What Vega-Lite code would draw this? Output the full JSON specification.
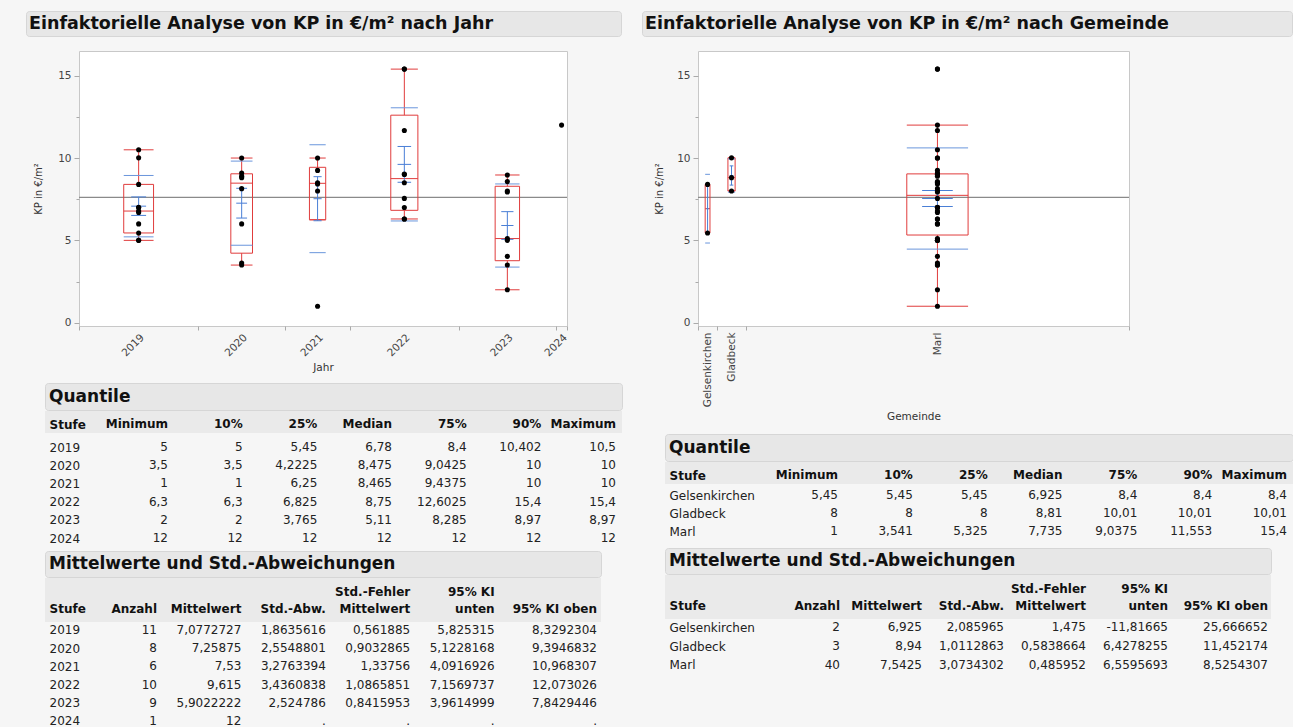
{
  "$schema": "https://vega.github.io/schema/vega-lite/v6.json",
  "background": "#f6f6f6",
  "padding": {"left": 25, "top": 10, "right": 0, "bottom": 0},
  "config": {
    "font": "DejaVu Sans",
    "view": {"stroke": null},
    "axis": {"labelFont": "DejaVu Sans", "titleFont": "DejaVu Sans"},
    "text": {"font": "DejaVu Sans"}
  },
  "datasets": {
    "kp": [
      {"Jahr": 2019, "Gemeinde": "Marl", "KP": 5},
      {"Jahr": 2019, "Gemeinde": "Marl", "KP": 5},
      {"Jahr": 2019, "Gemeinde": "Gelsenkirchen", "KP": 5.45},
      {"Jahr": 2019, "Gemeinde": "Marl", "KP": 6},
      {"Jahr": 2019, "Gemeinde": "Marl", "KP": 6.7},
      {"Jahr": 2019, "Gemeinde": "Marl", "KP": 6.78},
      {"Jahr": 2019, "Gemeinde": "Marl", "KP": 7},
      {"Jahr": 2019, "Gemeinde": "Marl", "KP": 7.01},
      {"Jahr": 2019, "Gemeinde": "Gelsenkirchen", "KP": 8.4},
      {"Jahr": 2019, "Gemeinde": "Gladbeck", "KP": 10.01},
      {"Jahr": 2019, "Gemeinde": "Marl", "KP": 10.5},
      {"Jahr": 2020, "Gemeinde": "Marl", "KP": 3.5},
      {"Jahr": 2020, "Gemeinde": "Marl", "KP": 3.63},
      {"Jahr": 2020, "Gemeinde": "Marl", "KP": 6},
      {"Jahr": 2020, "Gemeinde": "Marl", "KP": 8.14},
      {"Jahr": 2020, "Gemeinde": "Gladbeck", "KP": 8.81},
      {"Jahr": 2020, "Gemeinde": "Marl", "KP": 8.9},
      {"Jahr": 2020, "Gemeinde": "Marl", "KP": 9.09},
      {"Jahr": 2020, "Gemeinde": "Marl", "KP": 10},
      {"Jahr": 2021, "Gemeinde": "Marl", "KP": 1},
      {"Jahr": 2021, "Gemeinde": "Gladbeck", "KP": 8},
      {"Jahr": 2021, "Gemeinde": "Marl", "KP": 8.43},
      {"Jahr": 2021, "Gemeinde": "Marl", "KP": 8.5},
      {"Jahr": 2021, "Gemeinde": "Marl", "KP": 9.25},
      {"Jahr": 2021, "Gemeinde": "Marl", "KP": 10},
      {"Jahr": 2022, "Gemeinde": "Marl", "KP": 6.3},
      {"Jahr": 2022, "Gemeinde": "Marl", "KP": 6.3},
      {"Jahr": 2022, "Gemeinde": "Marl", "KP": 7},
      {"Jahr": 2022, "Gemeinde": "Marl", "KP": 7.55},
      {"Jahr": 2022, "Gemeinde": "Marl", "KP": 8.5},
      {"Jahr": 2022, "Gemeinde": "Marl", "KP": 9},
      {"Jahr": 2022, "Gemeinde": "Marl", "KP": 9.03},
      {"Jahr": 2022, "Gemeinde": "Marl", "KP": 11.67},
      {"Jahr": 2022, "Gemeinde": "Marl", "KP": 15.4},
      {"Jahr": 2022, "Gemeinde": "Marl", "KP": 15.4},
      {"Jahr": 2023, "Gemeinde": "Marl", "KP": 2},
      {"Jahr": 2023, "Gemeinde": "Marl", "KP": 3.5},
      {"Jahr": 2023, "Gemeinde": "Marl", "KP": 4.03},
      {"Jahr": 2023, "Gemeinde": "Marl", "KP": 5},
      {"Jahr": 2023, "Gemeinde": "Marl", "KP": 5.11},
      {"Jahr": 2023, "Gemeinde": "Marl", "KP": 7.94},
      {"Jahr": 2023, "Gemeinde": "Marl", "KP": 8},
      {"Jahr": 2023, "Gemeinde": "Marl", "KP": 8.57},
      {"Jahr": 2023, "Gemeinde": "Marl", "KP": 8.97},
      {"Jahr": 2024, "Gemeinde": "Marl", "KP": 12}
    ],
    "statsJahr": [
      {"Jahr": 2019, "n": 11, "q25": 5.45, "med": 6.78, "q75": 8.4, "wlo": 5, "whi": 10.5, "mean": 7.0772727, "sd": 1.8635616, "se": 0.561885},
      {"Jahr": 2020, "n": 8, "q25": 4.2225, "med": 8.475, "q75": 9.0425, "wlo": 3.5, "whi": 10, "mean": 7.25875, "sd": 2.5548801, "se": 0.9032865},
      {"Jahr": 2021, "n": 6, "q25": 6.25, "med": 8.465, "q75": 9.4375, "wlo": 6.25, "whi": 10, "mean": 7.53, "sd": 3.2763394, "se": 1.33756},
      {"Jahr": 2022, "n": 10, "q25": 6.825, "med": 8.75, "q75": 12.6025, "wlo": 6.3, "whi": 15.4, "mean": 9.615, "sd": 3.4360838, "se": 1.0865851},
      {"Jahr": 2023, "n": 9, "q25": 3.765, "med": 5.11, "q75": 8.285, "wlo": 2, "whi": 8.97, "mean": 5.9022222, "sd": 2.524786, "se": 0.8415953},
      {"Jahr": 2024, "n": 1, "mean": 12}
    ],
    "statsGemeinde": [
      {"Gemeinde": "Gelsenkirchen", "n": 2, "q25": 5.45, "med": 6.925, "q75": 8.4, "wlo": 5.45, "whi": 8.4, "mean": 6.925, "sd": 2.085965, "se": 1.475},
      {"Gemeinde": "Gladbeck", "n": 3, "q25": 8, "med": 8.81, "q75": 10.01, "wlo": 8, "whi": 10.01, "mean": 8.94, "sd": 1.0112863, "se": 0.5838664},
      {"Gemeinde": "Marl", "n": 40, "q25": 5.325, "med": 7.735, "q75": 9.0375, "wlo": 1, "whi": 12, "mean": 7.5425, "sd": 3.0734302, "se": 0.485952}
    ],
    "quantJahr": [
      {"Stufe": "Stufe", "min": "Minimum", "p10": "10%", "p25": "25%", "med": "Median", "p75": "75%", "p90": "90%", "max": "Maximum"},
      {"Stufe": "2019", "min": "5", "p10": "5", "p25": "5,45", "med": "6,78", "p75": "8,4", "p90": "10,402", "max": "10,5"},
      {"Stufe": "2020", "min": "3,5", "p10": "3,5", "p25": "4,2225", "med": "8,475", "p75": "9,0425", "p90": "10", "max": "10"},
      {"Stufe": "2021", "min": "1", "p10": "1", "p25": "6,25", "med": "8,465", "p75": "9,4375", "p90": "10", "max": "10"},
      {"Stufe": "2022", "min": "6,3", "p10": "6,3", "p25": "6,825", "med": "8,75", "p75": "12,6025", "p90": "15,4", "max": "15,4"},
      {"Stufe": "2023", "min": "2", "p10": "2", "p25": "3,765", "med": "5,11", "p75": "8,285", "p90": "8,97", "max": "8,97"},
      {"Stufe": "2024", "min": "12", "p10": "12", "p25": "12", "med": "12", "p75": "12", "p90": "12", "max": "12"}
    ],
    "meansJahr": [
      {"Stufe": "Stufe", "n": "Anzahl", "mw": "Mittelwert", "sd": "Std.-Abw.", "se": "Std.-Fehler\nMittelwert", "ku": "95% KI\nunten", "ko": "95% KI oben"},
      {"Stufe": "2019", "n": "11", "mw": "7,0772727", "sd": "1,8635616", "se": "0,561885", "ku": "5,825315", "ko": "8,3292304"},
      {"Stufe": "2020", "n": "8", "mw": "7,25875", "sd": "2,5548801", "se": "0,9032865", "ku": "5,1228168", "ko": "9,3946832"},
      {"Stufe": "2021", "n": "6", "mw": "7,53", "sd": "3,2763394", "se": "1,33756", "ku": "4,0916926", "ko": "10,968307"},
      {"Stufe": "2022", "n": "10", "mw": "9,615", "sd": "3,4360838", "se": "1,0865851", "ku": "7,1569737", "ko": "12,073026"},
      {"Stufe": "2023", "n": "9", "mw": "5,9022222", "sd": "2,524786", "se": "0,8415953", "ku": "3,9614999", "ko": "7,8429446"},
      {"Stufe": "2024", "n": "1", "mw": "12", "sd": ".", "se": ".", "ku": ".", "ko": "."}
    ],
    "quantGemeinde": [
      {"Stufe": "Stufe", "min": "Minimum", "p10": "10%", "p25": "25%", "med": "Median", "p75": "75%", "p90": "90%", "max": "Maximum"},
      {"Stufe": "Gelsenkirchen", "min": "5,45", "p10": "5,45", "p25": "5,45", "med": "6,925", "p75": "8,4", "p90": "8,4", "max": "8,4"},
      {"Stufe": "Gladbeck", "min": "8", "p10": "8", "p25": "8", "med": "8,81", "p75": "10,01", "p90": "10,01", "max": "10,01"},
      {"Stufe": "Marl", "min": "1", "p10": "3,541", "p25": "5,325", "med": "7,735", "p75": "9,0375", "p90": "11,553", "max": "15,4"}
    ],
    "meansGemeinde": [
      {"Stufe": "Stufe", "n": "Anzahl", "mw": "Mittelwert", "sd": "Std.-Abw.", "se": "Std.-Fehler\nMittelwert", "ku": "95% KI\nunten", "ko": "95% KI oben"},
      {"Stufe": "Gelsenkirchen", "n": "2", "mw": "6,925", "sd": "2,085965", "se": "1,475", "ku": "-11,81665", "ko": "25,666652"},
      {"Stufe": "Gladbeck", "n": "3", "mw": "8,94", "sd": "1,0112863", "se": "0,5838664", "ku": "6,4278255", "ko": "11,452174"},
      {"Stufe": "Marl", "n": "40", "mw": "7,5425", "sd": "3,0734302", "se": "0,485952", "ku": "6,5595693", "ko": "8,5254307"}
    ]
  },
  "spacing": 18,
  "hconcat": [
    {
      "spacing": 13,
      "vconcat": [
        {
          "width": 595, "height": 25,
          "view": {"fill": "#e7e7e7", "stroke": "#d6d6d6", "cornerRadius": 3},
          "data": {"values": [{"titel": "Einfaktorielle Analyse von KP in €/m² nach Jahr"}]},
          "mark": {"type": "text", "align": "left", "baseline": "middle", "dx": 3, "fontSize": 17.5, "fontWeight": "bold", "color": "#111"},
          "encoding": {"text": {"field": "titel"}, "x": {"datum": 0, "type": "quantitative", "scale": {"domain": [0, 1]}, "axis": null}}
        },
        {
          "spacing": 8,
          "vconcat": [
            {
              "spacing": 0,
              "hconcat": [
                {"width": 7, "height": 10, "data": {"values": []}, "mark": "rect"},
                {
                  "width": 488, "height": 275,
                  "view": {"fill": "white", "stroke": "#c8c8c8"},
                  "layer": [
                    {
                      "data": {"name": "kp"},
                      "mark": {"type": "rule", "color": "#8a8a8a", "strokeWidth": 1.2},
                      "encoding": {
                        "y": {"aggregate": "mean", "field": "KP", "type": "quantitative", "title": "KP in €/m²",
                          "scale": {"domain": [-0.2, 16.5], "nice": false, "zero": false},
                          "axis": {"values": [0, 2.5, 5, 7.5, 10, 12.5, 15], "labelExpr": "datum.value % 5 == 0 ? datum.label : ''", "labelFontSize": 10.5, "labelColor": "#444", "tickSize": {"condition": {"test": "datum.value % 5 != 0", "value": 3}, "value": 5}, "tickColor": "#aaa", "domain": false, "grid": false, "labelPadding": 3, "titleFontSize": 10, "titlePadding": 14, "titleColor": "#333", "titleFontWeight": "normal"}}
                      }
                    },
                    {
                      "data": {"name": "statsJahr"},
                      "transform": [
                        {"window": [{"op": "sum", "field": "n", "as": "cum"}], "sort": [{"field": "Jahr"}], "frame": [null, 0]},
                        {"filter": "datum.n > 1"},
                        {"calculate": "datum.cum - datum.n / 2", "as": "c"},
                        {"calculate": "min(datum.n * 0.125, 3.2)", "as": "h"},
                        {"calculate": "datum.c - datum.h", "as": "x1"},
                        {"calculate": "datum.c + datum.h", "as": "x2"},
                        {"calculate": "datum.c - datum.h / 2", "as": "xs1"},
                        {"calculate": "datum.c + datum.h / 2", "as": "xs2"},
                        {"calculate": "datum.mean - datum.sd", "as": "sdlo"},
                        {"calculate": "datum.mean + datum.sd", "as": "sdhi"},
                        {"calculate": "datum.mean - datum.se", "as": "selo"},
                        {"calculate": "datum.mean + datum.se", "as": "sehi"}
                      ],
                      "layer": [
                        {"mark": {"type": "rule", "color": "#e03c3c"}, "encoding": {
                          "x": {"field": "c", "type": "quantitative", "title": "Jahr", "scale": {"domain": [0, 45], "nice": false, "zero": false},
                            "axis": {"values": [0, 5.5, 11, 15, 19, 22, 25, 30, 35, 39.5, 44, 44.5, 45],
                              "labelExpr": "datum.value == 5.5 ? '2019' : datum.value == 15 ? '2020' : datum.value == 22 ? '2021' : datum.value == 30 ? '2022' : datum.value == 39.5 ? '2023' : datum.value == 44.5 ? '2024' : ''",
                              "labelAngle": -45, "labelFontSize": 10.5, "labelColor": "#444", "labelPadding": 2, "labelOverlap": false, "labelFlush": false, "labelBound": false,
                              "tickSize": 4, "tickColor": {"condition": {"test": "indexof([0, 11, 19, 25, 35, 44, 45], datum.value) >= 0", "value": "#aaa"}, "value": "rgba(0,0,0,0)"},
                              "domain": false, "grid": false, "titleFontSize": 10.5, "titleColor": "#333", "titleFontWeight": "normal", "titlePadding": 4}},
                          "y": {"field": "wlo", "type": "quantitative", "title": "KP in €/m²"}, "y2": {"field": "q25"}}},
                        {"mark": {"type": "rule", "color": "#e03c3c"}, "encoding": {"x": {"field": "c", "type": "quantitative", "title": "Jahr"}, "y": {"field": "q75", "type": "quantitative", "title": "KP in €/m²"}, "y2": {"field": "whi"}}},
                        {"mark": {"type": "rule", "color": "#e03c3c"}, "encoding": {"x": {"field": "x1", "type": "quantitative", "title": "Jahr"}, "x2": {"field": "x2"}, "y": {"field": "wlo", "type": "quantitative", "title": "KP in €/m²"}}},
                        {"mark": {"type": "rule", "color": "#e03c3c"}, "encoding": {"x": {"field": "x1", "type": "quantitative", "title": "Jahr"}, "x2": {"field": "x2"}, "y": {"field": "whi", "type": "quantitative", "title": "KP in €/m²"}}},
                        {"mark": {"type": "rect", "fill": "transparent", "stroke": "#e03c3c", "strokeWidth": 1}, "encoding": {"x": {"field": "x1", "type": "quantitative", "title": "Jahr"}, "x2": {"field": "x2"}, "y": {"field": "q25", "type": "quantitative", "title": "KP in €/m²"}, "y2": {"field": "q75"}}},
                        {"mark": {"type": "rule", "color": "#e03c3c"}, "encoding": {"x": {"field": "x1", "type": "quantitative", "title": "Jahr"}, "x2": {"field": "x2"}, "y": {"field": "med", "type": "quantitative", "title": "KP in €/m²"}}},
                        {"mark": {"type": "rule", "color": "#6a96dc"}, "encoding": {"x": {"field": "x1", "type": "quantitative", "title": "Jahr"}, "x2": {"field": "x2"}, "y": {"field": "sdlo", "type": "quantitative", "title": "KP in €/m²"}}},
                        {"mark": {"type": "rule", "color": "#6a96dc"}, "encoding": {"x": {"field": "x1", "type": "quantitative", "title": "Jahr"}, "x2": {"field": "x2"}, "y": {"field": "sdhi", "type": "quantitative", "title": "KP in €/m²"}}},
                        {"mark": {"type": "rule", "color": "#4a7fd6"}, "encoding": {"x": {"field": "c", "type": "quantitative", "title": "Jahr"}, "y": {"field": "selo", "type": "quantitative", "title": "KP in €/m²"}, "y2": {"field": "sehi"}}},
                        {"mark": {"type": "rule", "color": "#4a7fd6"}, "encoding": {"x": {"field": "xs1", "type": "quantitative", "title": "Jahr"}, "x2": {"field": "xs2"}, "y": {"field": "selo", "type": "quantitative", "title": "KP in €/m²"}}},
                        {"mark": {"type": "rule", "color": "#4a7fd6"}, "encoding": {"x": {"field": "xs1", "type": "quantitative", "title": "Jahr"}, "x2": {"field": "xs2"}, "y": {"field": "sehi", "type": "quantitative", "title": "KP in €/m²"}}},
                        {"mark": {"type": "rule", "color": "#4a7fd6"}, "encoding": {"x": {"field": "xs1", "type": "quantitative", "title": "Jahr"}, "x2": {"field": "xs2"}, "y": {"field": "mean", "type": "quantitative", "title": "KP in €/m²"}}}
                      ]
                    },
                    {
                      "data": {"name": "kp"},
                      "transform": [
                        {"joinaggregate": [{"op": "count", "as": "n"}], "groupby": ["Jahr"]},
                        {"window": [{"op": "row_number", "as": "rn"}], "sort": [{"field": "Jahr"}, {"field": "KP"}]},
                        {"joinaggregate": [{"op": "min", "field": "rn", "as": "first"}], "groupby": ["Jahr"]},
                        {"calculate": "datum.first - 1 + datum.n / 2", "as": "c"}
                      ],
                      "mark": {"type": "circle", "size": 26, "color": "#000", "opacity": 1},
                      "encoding": {"x": {"field": "c", "type": "quantitative", "title": "Jahr"}, "y": {"field": "KP", "type": "quantitative", "title": "KP in €/m²"}}
                    }
                  ]
                }
              ]
            },
            {
              "spacing": 0,
              "hconcat": [
                {"width": 18, "height": 10, "data": {"values": []}, "mark": "rect"},
                {
                  "spacing": 0,
                  "vconcat": [
                    {
                      "width": 577, "height": 27,
                      "view": {"fill": "#e7e7e7", "stroke": "#d6d6d6", "cornerRadius": 3},
                      "data": {"values": [{"titel": "Quantile"}]},
                      "mark": {"type": "text", "align": "left", "baseline": "middle", "dx": 4, "fontSize": 17, "fontWeight": "bold", "color": "#111"},
                      "encoding": {"text": {"field": "titel"}, "x": {"datum": 0, "type": "quantitative", "scale": {"domain": [0, 1]}, "axis": null}}
                    },
                    {
                      "width": 577, "height": 22,
                      "view": {"fill": "#eaeaea"},
                      "data": {"name": "quantJahr"},
                      "transform": [{"filter": "datum.Stufe == 'Stufe'"}, {"fold": ["min", "p10", "p25", "med", "p75", "p90", "max"], "as": ["key", "val"]}],
                      "mark": {"type": "text", "align": "right", "baseline": "middle", "fontSize": 12, "fontWeight": "bold", "color": "#111"},
                      "encoding": {
                        "y": {"field": "Stufe", "type": "nominal", "scale": {"type": "point", "domain": ["Stufe"], "align": 0.6},
                          "axis": {"title": null, "domain": false, "ticks": false, "labelAlign": "left", "labelPadding": -4, "labelFontSize": 12, "labelColor": "#111", "labelFontWeight": "bold", "zindex": 1}},
                        "x": {"field": "key", "type": "nominal", "scale": {"type": "point", "padding": 0, "domain": ["min", "p10", "p25", "med", "p75", "p90", "max"], "range": [123, 571]}, "axis": null},
                        "text": {"field": "val"}
                      }
                    },
                    {
                      "width": 577, "height": 117,
                      "data": {"name": "quantJahr"},
                      "transform": [{"filter": "datum.Stufe != 'Stufe'"}, {"fold": ["min", "p10", "p25", "med", "p75", "p90", "max"], "as": ["key", "val"]}],
                      "mark": {"type": "text", "align": "right", "baseline": "middle", "fontSize": 12, "color": "#222"},
                      "encoding": {
                        "y": {"field": "Stufe", "type": "nominal", "scale": {"type": "point", "domain": ["2019", "2020", "2021", "2022", "2023", "2024"], "padding": 0.714, "align": 0.54},
                          "axis": {"title": null, "domain": false, "ticks": false, "labelAlign": "left", "labelPadding": -4, "labelFontSize": 12, "labelColor": "#222", "zindex": 1}},
                        "x": {"field": "key", "type": "nominal", "scale": {"type": "point", "padding": 0, "domain": ["min", "p10", "p25", "med", "p75", "p90", "max"], "range": [123, 571]}, "axis": null},
                        "text": {"field": "val"}
                      }
                    },
                    {
                      "width": 556, "height": 26,
                      "view": {"fill": "#e7e7e7", "stroke": "#d6d6d6", "cornerRadius": 3},
                      "data": {"values": [{"titel": "Mittelwerte und Std.-Abweichungen"}]},
                      "mark": {"type": "text", "align": "left", "baseline": "middle", "dx": 4, "fontSize": 17, "fontWeight": "bold", "color": "#111"},
                      "encoding": {"text": {"field": "titel"}, "x": {"datum": 0, "type": "quantitative", "scale": {"domain": [0, 1]}, "axis": null}}
                    },
                    {
                      "width": 556, "height": 44,
                      "view": {"fill": "#eaeaea"},
                      "data": {"name": "meansJahr"},
                      "transform": [{"filter": "datum.Stufe == 'Stufe'"}, {"fold": ["n", "mw", "sd", "se", "ku", "ko"], "as": ["key", "val"]}],
                      "encoding": {
                        "y": {"field": "Stufe", "type": "nominal", "scale": {"type": "point", "domain": ["Stufe"], "align": 0.7},
                          "axis": {"title": null, "domain": false, "ticks": false, "labelAlign": "left", "labelPadding": -4, "labelFontSize": 12, "labelColor": "#111", "labelFontWeight": "bold", "zindex": 1}},
                        "x": {"field": "key", "type": "nominal", "scale": {"type": "point", "padding": 0, "domain": ["n", "mw", "sd", "se", "ku", "ko"], "range": [112, 534]}, "axis": null},
                        "text": {"field": "val"}
                      },
                      "layer": [
                        {"transform": [{"filter": "datum.key != 'ko' && indexof(datum.val, '\\n') < 0"}], "mark": {"type": "text", "align": "right", "baseline": "middle", "fontSize": 12, "fontWeight": "bold", "color": "#111"}},
                        {"transform": [{"filter": "indexof(datum.val, '\\n') >= 0"}], "mark": {"type": "text", "align": "right", "baseline": "middle", "dy": -17, "lineBreak": "\n", "lineHeight": 17, "fontSize": 12, "fontWeight": "bold", "color": "#111"}},
                        {"transform": [{"filter": "datum.key == 'ko'"}], "mark": {"type": "text", "align": "right", "baseline": "middle", "dx": 18, "fontSize": 12, "fontWeight": "bold", "color": "#111"}}
                      ]
                    },
                    {
                      "width": 556, "height": 108,
                      "data": {"name": "meansJahr"},
                      "transform": [{"filter": "datum.Stufe != 'Stufe'"}, {"fold": ["n", "mw", "sd", "se", "ku", "ko"], "as": ["key", "val"]}],
                      "encoding": {
                        "y": {"field": "Stufe", "type": "nominal", "scale": {"type": "point", "domain": ["2019", "2020", "2021", "2022", "2023", "2024"], "padding": 0.467, "align": 0.47},
                          "axis": {"title": null, "domain": false, "ticks": false, "labelAlign": "left", "labelPadding": -4, "labelFontSize": 12, "labelColor": "#222", "zindex": 1}},
                        "x": {"field": "key", "type": "nominal", "scale": {"type": "point", "padding": 0, "domain": ["n", "mw", "sd", "se", "ku", "ko"], "range": [112, 534]}, "axis": null},
                        "text": {"field": "val"}
                      },
                      "layer": [
                        {"transform": [{"filter": "datum.key != 'ko'"}], "mark": {"type": "text", "align": "right", "baseline": "middle", "fontSize": 12, "color": "#222"}},
                        {"transform": [{"filter": "datum.key == 'ko'"}], "mark": {"type": "text", "align": "right", "baseline": "middle", "dx": 18, "fontSize": 12, "color": "#222"}}
                      ]
                    }
                  ]
                }
              ]
            }
          ]
        }
      ]
    },
    {
      "spacing": 13,
      "vconcat": [
        {
          "width": 650, "height": 25,
          "view": {"fill": "#e7e7e7", "stroke": "#d6d6d6", "cornerRadius": 3},
          "data": {"values": [{"titel": "Einfaktorielle Analyse von KP in €/m² nach Gemeinde"}]},
          "mark": {"type": "text", "align": "left", "baseline": "middle", "dx": 3, "fontSize": 17.5, "fontWeight": "bold", "color": "#111"},
          "encoding": {"text": {"field": "titel"}, "x": {"datum": 0, "type": "quantitative", "scale": {"domain": [0, 1]}, "axis": null}}
        },
        {
          "spacing": 10,
          "vconcat": [
            {
              "spacing": 0,
              "hconcat": [
                {"width": 12, "height": 10, "data": {"values": []}, "mark": "rect"},
                {
                  "width": 431, "height": 275,
                  "view": {"fill": "white", "stroke": "#c8c8c8"},
                  "layer": [
                    {
                      "data": {"name": "kp"},
                      "mark": {"type": "rule", "color": "#8a8a8a", "strokeWidth": 1.2},
                      "encoding": {
                        "y": {"aggregate": "mean", "field": "KP", "type": "quantitative", "title": "KP in €/m²",
                          "scale": {"domain": [-0.2, 16.5], "nice": false, "zero": false},
                          "axis": {"values": [0, 2.5, 5, 7.5, 10, 12.5, 15], "labelExpr": "datum.value % 5 == 0 ? datum.label : ''", "labelFontSize": 10.5, "labelColor": "#444", "tickSize": {"condition": {"test": "datum.value % 5 != 0", "value": 3}, "value": 5}, "tickColor": "#aaa", "domain": false, "grid": false, "labelPadding": 3, "titleFontSize": 10, "titlePadding": 12, "titleColor": "#333", "titleFontWeight": "normal"}}
                      }
                    },
                    {
                      "data": {"name": "statsGemeinde"},
                      "transform": [
                        {"window": [{"op": "sum", "field": "n", "as": "cum"}], "sort": [{"field": "Gemeinde"}], "frame": [null, 0]},
                        {"filter": "datum.n > 1"},
                        {"calculate": "datum.cum - datum.n / 2", "as": "c"},
                        {"calculate": "min(datum.n * 0.125, 3.2)", "as": "h"},
                        {"calculate": "datum.c - datum.h", "as": "x1"},
                        {"calculate": "datum.c + datum.h", "as": "x2"},
                        {"calculate": "datum.c - datum.h / 2", "as": "xs1"},
                        {"calculate": "datum.c + datum.h / 2", "as": "xs2"},
                        {"calculate": "datum.mean - datum.sd", "as": "sdlo"},
                        {"calculate": "datum.mean + datum.sd", "as": "sdhi"},
                        {"calculate": "datum.mean - datum.se", "as": "selo"},
                        {"calculate": "datum.mean + datum.se", "as": "sehi"}
                      ],
                      "layer": [
                        {"mark": {"type": "rule", "color": "#e03c3c"}, "encoding": {
                          "x": {"field": "c", "type": "quantitative", "title": "Gemeinde", "scale": {"domain": [0, 45], "nice": false, "zero": false},
                            "axis": {"values": [0, 1, 2, 3.5, 5, 25, 45],
                              "labelExpr": "datum.value == 1 ? 'Gelsenkirchen' : datum.value == 3.5 ? 'Gladbeck' : datum.value == 25 ? 'Marl' : ''",
                              "labelAngle": -90, "labelFontSize": 10.5, "labelColor": "#444", "labelPadding": 2, "labelOverlap": false, "labelFlush": false, "labelBound": false,
                              "tickSize": 4, "tickColor": {"condition": {"test": "indexof([0, 2, 5, 45], datum.value) >= 0", "value": "#aaa"}, "value": "rgba(0,0,0,0)"},
                              "domain": false, "grid": false, "titleFontSize": 10.5, "titleColor": "#333", "titleFontWeight": "normal", "titlePadding": 5}},
                          "y": {"field": "wlo", "type": "quantitative", "title": "KP in €/m²"}, "y2": {"field": "q25"}}},
                        {"mark": {"type": "rule", "color": "#e03c3c"}, "encoding": {"x": {"field": "c", "type": "quantitative", "title": "Gemeinde"}, "y": {"field": "q75", "type": "quantitative", "title": "KP in €/m²"}, "y2": {"field": "whi"}}},
                        {"mark": {"type": "rule", "color": "#e03c3c"}, "encoding": {"x": {"field": "x1", "type": "quantitative", "title": "Gemeinde"}, "x2": {"field": "x2"}, "y": {"field": "wlo", "type": "quantitative", "title": "KP in €/m²"}}},
                        {"mark": {"type": "rule", "color": "#e03c3c"}, "encoding": {"x": {"field": "x1", "type": "quantitative", "title": "Gemeinde"}, "x2": {"field": "x2"}, "y": {"field": "whi", "type": "quantitative", "title": "KP in €/m²"}}},
                        {"mark": {"type": "rect", "fill": "transparent", "stroke": "#e03c3c", "strokeWidth": 1}, "encoding": {"x": {"field": "x1", "type": "quantitative", "title": "Gemeinde"}, "x2": {"field": "x2"}, "y": {"field": "q25", "type": "quantitative", "title": "KP in €/m²"}, "y2": {"field": "q75"}}},
                        {"mark": {"type": "rule", "color": "#e03c3c"}, "encoding": {"x": {"field": "x1", "type": "quantitative", "title": "Gemeinde"}, "x2": {"field": "x2"}, "y": {"field": "med", "type": "quantitative", "title": "KP in €/m²"}}},
                        {"mark": {"type": "rule", "color": "#6a96dc"}, "encoding": {"x": {"field": "x1", "type": "quantitative", "title": "Gemeinde"}, "x2": {"field": "x2"}, "y": {"field": "sdlo", "type": "quantitative", "title": "KP in €/m²"}}},
                        {"mark": {"type": "rule", "color": "#6a96dc"}, "encoding": {"x": {"field": "x1", "type": "quantitative", "title": "Gemeinde"}, "x2": {"field": "x2"}, "y": {"field": "sdhi", "type": "quantitative", "title": "KP in €/m²"}}},
                        {"mark": {"type": "rule", "color": "#4a7fd6"}, "encoding": {"x": {"field": "c", "type": "quantitative", "title": "Gemeinde"}, "y": {"field": "selo", "type": "quantitative", "title": "KP in €/m²"}, "y2": {"field": "sehi"}}},
                        {"mark": {"type": "rule", "color": "#4a7fd6"}, "encoding": {"x": {"field": "xs1", "type": "quantitative", "title": "Gemeinde"}, "x2": {"field": "xs2"}, "y": {"field": "selo", "type": "quantitative", "title": "KP in €/m²"}}},
                        {"mark": {"type": "rule", "color": "#4a7fd6"}, "encoding": {"x": {"field": "xs1", "type": "quantitative", "title": "Gemeinde"}, "x2": {"field": "xs2"}, "y": {"field": "sehi", "type": "quantitative", "title": "KP in €/m²"}}},
                        {"mark": {"type": "rule", "color": "#4a7fd6"}, "encoding": {"x": {"field": "xs1", "type": "quantitative", "title": "Gemeinde"}, "x2": {"field": "xs2"}, "y": {"field": "mean", "type": "quantitative", "title": "KP in €/m²"}}}
                      ]
                    },
                    {
                      "data": {"name": "kp"},
                      "transform": [
                        {"joinaggregate": [{"op": "count", "as": "n"}], "groupby": ["Gemeinde"]},
                        {"window": [{"op": "row_number", "as": "rn"}], "sort": [{"field": "Gemeinde"}, {"field": "KP"}]},
                        {"joinaggregate": [{"op": "min", "field": "rn", "as": "first"}], "groupby": ["Gemeinde"]},
                        {"calculate": "datum.first - 1 + datum.n / 2", "as": "c"}
                      ],
                      "mark": {"type": "circle", "size": 26, "color": "#000", "opacity": 1},
                      "encoding": {"x": {"field": "c", "type": "quantitative", "title": "Gemeinde"}, "y": {"field": "KP", "type": "quantitative", "title": "KP in €/m²"}}
                    }
                  ]
                }
              ]
            },
            {
              "spacing": 0,
              "hconcat": [
                {"width": 22, "height": 10, "data": {"values": []}, "mark": "rect"},
                {
                  "spacing": 0,
                  "vconcat": [
                    {
                      "width": 628, "height": 27,
                      "view": {"fill": "#e7e7e7", "stroke": "#d6d6d6", "cornerRadius": 3},
                      "data": {"values": [{"titel": "Quantile"}]},
                      "mark": {"type": "text", "align": "left", "baseline": "middle", "dx": 4, "fontSize": 17, "fontWeight": "bold", "color": "#111"},
                      "encoding": {"text": {"field": "titel"}, "x": {"datum": 0, "type": "quantitative", "scale": {"domain": [0, 1]}, "axis": null}}
                    },
                    {
                      "width": 628, "height": 22,
                      "view": {"fill": "#eaeaea"},
                      "data": {"name": "quantGemeinde"},
                      "transform": [{"filter": "datum.Stufe == 'Stufe'"}, {"fold": ["min", "p10", "p25", "med", "p75", "p90", "max"], "as": ["key", "val"]}],
                      "mark": {"type": "text", "align": "right", "baseline": "middle", "fontSize": 12, "fontWeight": "bold", "color": "#111"},
                      "encoding": {
                        "y": {"field": "Stufe", "type": "nominal", "scale": {"type": "point", "domain": ["Stufe"], "align": 0.6},
                          "axis": {"title": null, "domain": false, "ticks": false, "labelAlign": "left", "labelPadding": -4, "labelFontSize": 12, "labelColor": "#111", "labelFontWeight": "bold", "zindex": 1}},
                        "x": {"field": "key", "type": "nominal", "scale": {"type": "point", "padding": 0, "domain": ["min", "p10", "p25", "med", "p75", "p90", "max"], "range": [173, 622]}, "axis": null},
                        "text": {"field": "val"}
                      }
                    },
                    {
                      "width": 628, "height": 63,
                      "data": {"name": "quantGemeinde"},
                      "transform": [{"filter": "datum.Stufe != 'Stufe'"}, {"fold": ["min", "p10", "p25", "med", "p75", "p90", "max"], "as": ["key", "val"]}],
                      "mark": {"type": "text", "align": "right", "baseline": "middle", "fontSize": 12, "color": "#222"},
                      "encoding": {
                        "y": {"field": "Stufe", "type": "nominal", "scale": {"type": "point", "domain": ["Gelsenkirchen", "Gladbeck", "Marl"], "padding": 0.75, "align": 0.41},
                          "axis": {"title": null, "domain": false, "ticks": false, "labelAlign": "left", "labelPadding": -4, "labelFontSize": 12, "labelColor": "#222", "zindex": 1}},
                        "x": {"field": "key", "type": "nominal", "scale": {"type": "point", "padding": 0, "domain": ["min", "p10", "p25", "med", "p75", "p90", "max"], "range": [173, 622]}, "axis": null},
                        "text": {"field": "val"}
                      }
                    },
                    {
                      "width": 606, "height": 26,
                      "view": {"fill": "#e7e7e7", "stroke": "#d6d6d6", "cornerRadius": 3},
                      "data": {"values": [{"titel": "Mittelwerte und Std.-Abweichungen"}]},
                      "mark": {"type": "text", "align": "left", "baseline": "middle", "dx": 4, "fontSize": 17, "fontWeight": "bold", "color": "#111"},
                      "encoding": {"text": {"field": "titel"}, "x": {"datum": 0, "type": "quantitative", "scale": {"domain": [0, 1]}, "axis": null}}
                    },
                    {
                      "width": 606, "height": 44,
                      "view": {"fill": "#eaeaea"},
                      "data": {"name": "meansGemeinde"},
                      "transform": [{"filter": "datum.Stufe == 'Stufe'"}, {"fold": ["n", "mw", "sd", "se", "ku", "ko"], "as": ["key", "val"]}],
                      "encoding": {
                        "y": {"field": "Stufe", "type": "nominal", "scale": {"type": "point", "domain": ["Stufe"], "align": 0.7},
                          "axis": {"title": null, "domain": false, "ticks": false, "labelAlign": "left", "labelPadding": -4, "labelFontSize": 12, "labelColor": "#111", "labelFontWeight": "bold", "zindex": 1}},
                        "x": {"field": "key", "type": "nominal", "scale": {"type": "point", "padding": 0, "domain": ["n", "mw", "sd", "se", "ku", "ko"], "range": [175, 585]}, "axis": null},
                        "text": {"field": "val"}
                      },
                      "layer": [
                        {"transform": [{"filter": "datum.key != 'ko' && indexof(datum.val, '\\n') < 0"}], "mark": {"type": "text", "align": "right", "baseline": "middle", "fontSize": 12, "fontWeight": "bold", "color": "#111"}},
                        {"transform": [{"filter": "indexof(datum.val, '\\n') >= 0"}], "mark": {"type": "text", "align": "right", "baseline": "middle", "dy": -17, "lineBreak": "\n", "lineHeight": 17, "fontSize": 12, "fontWeight": "bold", "color": "#111"}},
                        {"transform": [{"filter": "datum.key == 'ko'"}], "mark": {"type": "text", "align": "right", "baseline": "middle", "dx": 18, "fontSize": 12, "fontWeight": "bold", "color": "#111"}}
                      ]
                    },
                    {
                      "width": 606, "height": 56,
                      "data": {"name": "meansGemeinde"},
                      "transform": [{"filter": "datum.Stufe != 'Stufe'"}, {"fold": ["n", "mw", "sd", "se", "ku", "ko"], "as": ["key", "val"]}],
                      "encoding": {
                        "y": {"field": "Stufe", "type": "nominal", "scale": {"type": "point", "domain": ["Gelsenkirchen", "Gladbeck", "Marl"], "padding": 0.5, "align": 0.45},
                          "axis": {"title": null, "domain": false, "ticks": false, "labelAlign": "left", "labelPadding": -4, "labelFontSize": 12, "labelColor": "#222", "zindex": 1}},
                        "x": {"field": "key", "type": "nominal", "scale": {"type": "point", "padding": 0, "domain": ["n", "mw", "sd", "se", "ku", "ko"], "range": [175, 585]}, "axis": null},
                        "text": {"field": "val"}
                      },
                      "layer": [
                        {"transform": [{"filter": "datum.key != 'ko'"}], "mark": {"type": "text", "align": "right", "baseline": "middle", "fontSize": 12, "color": "#222"}},
                        {"transform": [{"filter": "datum.key == 'ko'"}], "mark": {"type": "text", "align": "right", "baseline": "middle", "dx": 18, "fontSize": 12, "color": "#222"}}
                      ]
                    }
                  ]
                }
              ]
            }
          ]
        }
      ]
    }
  ]
}
